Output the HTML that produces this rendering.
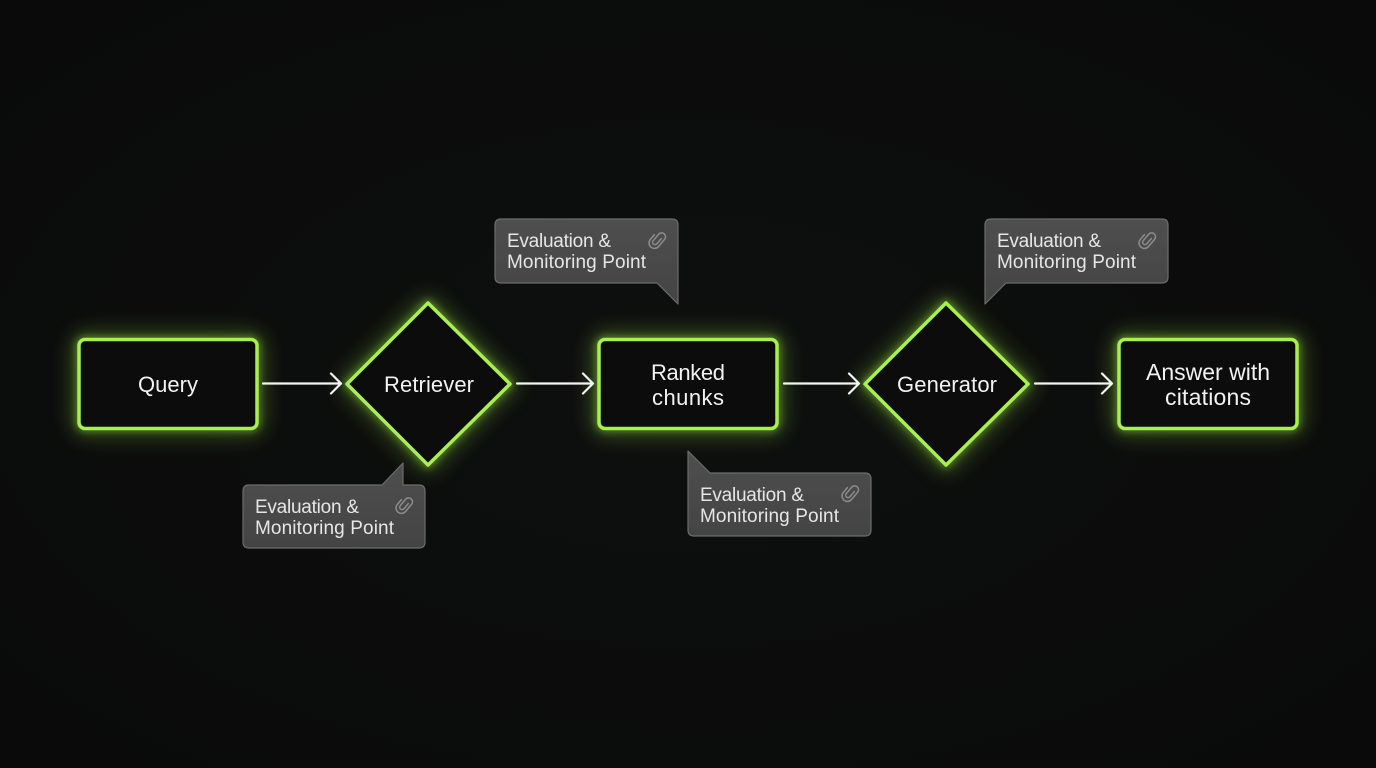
<!DOCTYPE html>
<html><head><meta charset="utf-8"><style>
html,body{margin:0;padding:0;background:#0b0c0c;}
svg{display:block;}
</style></head><body>
<svg width="1376" height="768" viewBox="0 0 1376 768" xmlns="http://www.w3.org/2000/svg">
<defs>
<filter id="glow" x="-50%" y="-50%" width="200%" height="200%">
<feGaussianBlur stdDeviation="11"/>
</filter>
<filter id="glow2" x="-50%" y="-50%" width="200%" height="200%">
<feGaussianBlur stdDeviation="4"/>
</filter>
<radialGradient id="bg" cx="50%" cy="50%" r="70%">
<stop offset="0" stop-color="#0e0f0f"/>
<stop offset="1" stop-color="#0a0a0a"/>
</radialGradient>
<linearGradient id="cf" x1="0" y1="0" x2="0" y2="1">
<stop offset="0" stop-color="#4e4e4e"/>
<stop offset="1" stop-color="#444444"/>
</linearGradient>
<g id="clip">
<path d="M1.6,-3.2 V3.6 a2.4,2.4 0 0 1 -4.8,0 V-4.8 a3.9,3.9 0 0 1 7.8,0 V4.6 a5.4,5.4 0 0 1 -10.8,0 V-1.8" fill="none" stroke="#8c8c8c" stroke-width="1.5" stroke-linecap="round"/>
</g>
</defs>
<rect width="1376" height="768" fill="url(#bg)"/>

<!-- glows -->
<g filter="url(#glow)" stroke="#8fe03a" stroke-width="10" fill="none" opacity="0.5">
<rect x="79" y="339.5" width="178" height="89" rx="6"/>
<path d="M428,303 L510,384 L428,465 L347,384 Z"/>
<rect x="599" y="339.5" width="178" height="89" rx="6"/>
<path d="M946,303 L1028,384 L946,465 L865,384 Z"/>
<rect x="1119" y="339.5" width="178" height="89" rx="6"/>
</g>
<g filter="url(#glow2)" stroke="#9be845" stroke-width="5" fill="none" opacity="0.6">
<rect x="79" y="339.5" width="178" height="89" rx="6"/>
<path d="M428,303 L510,384 L428,465 L347,384 Z"/>
<rect x="599" y="339.5" width="178" height="89" rx="6"/>
<path d="M946,303 L1028,384 L946,465 L865,384 Z"/>
<rect x="1119" y="339.5" width="178" height="89" rx="6"/>
</g>

<!-- nodes -->
<g stroke="#a8ef4f" stroke-width="3.5" fill="#0b0c0b" stroke-linejoin="round">
<rect x="79" y="339.5" width="178" height="89" rx="6"/>
<path d="M428,303 L510,384 L428,465 L347,384 Z"/>
<rect x="599" y="339.5" width="178" height="89" rx="6"/>
<path d="M946,303 L1028,384 L946,465 L865,384 Z"/>
<rect x="1119" y="339.5" width="178" height="89" rx="6"/>
</g>

<g font-family="Liberation Sans, sans-serif" font-size="22" fill="#f2f2f2" text-anchor="middle">
<text x="168" y="392">Query</text>
<text x="429" y="392" textLength="90">Retriever</text>
<text x="688" y="380" textLength="74">Ranked</text>
<text x="688" y="405" textLength="72">chunks</text>
<text x="947" y="392" textLength="100">Generator</text>
<text x="1208" y="380" font-size="23" textLength="124">Answer with</text>
<text x="1208" y="405" font-size="23" textLength="86">citations</text>
</g>

<!-- arrows -->
<g stroke="#f4f4f4" stroke-width="2.2" fill="none" stroke-linecap="round" stroke-linejoin="round">
<path d="M263,383.5 H341 M331,373.5 L341,383.5 L331,393.5"/>
<path d="M517,383.5 H593 M583,373.5 L593,383.5 L583,393.5"/>
<path d="M784,383.5 H859 M849,373.5 L859,383.5 L849,393.5"/>
<path d="M1035,383.5 H1112 M1102,373.5 L1112,383.5 L1102,393.5"/>
</g>

<!-- callouts -->
<g fill="url(#cf)" stroke="#6c6c6c" stroke-width="1.2" stroke-linejoin="round">
<path d="M249,485 H382 L403,463 V485 H419 Q425,485 425,491 V542 Q425,548 419,548 H249 Q243,548 243,542 V491 Q243,485 249,485 Z"/>
<path d="M501,219 H672 Q678,219 678,225 V304 L657,283 H501 Q495,283 495,277 V225 Q495,219 501,219 Z"/>
<path d="M688,451 L710,473 H865 Q871,473 871,479 V530 Q871,536 865,536 H694 Q688,536 688,530 Z"/>
<path d="M991,219 H1162 Q1168,219 1168,225 V277 Q1168,283 1162,283 H1006 L985,304 V225 Q985,219 991,219 Z"/>
</g>

<g font-family="Liberation Sans, sans-serif" font-size="19" fill="#e6e6e6">
<text x="255" y="513" textLength="104">Evaluation &amp;</text>
<text x="255" y="534" textLength="139">Monitoring Point</text>
<text x="507" y="247" textLength="104">Evaluation &amp;</text>
<text x="507" y="268" textLength="139">Monitoring Point</text>
<text x="700" y="501" textLength="104">Evaluation &amp;</text>
<text x="700" y="522" textLength="139">Monitoring Point</text>
<text x="997" y="247" textLength="104">Evaluation &amp;</text>
<text x="997" y="268" textLength="139">Monitoring Point</text>
</g>

<use href="#clip" transform="translate(405,505) rotate(40)"/>
<use href="#clip" transform="translate(658,240) rotate(40)"/>
<use href="#clip" transform="translate(851,493) rotate(40)"/>
<use href="#clip" transform="translate(1148,240) rotate(40)"/>
</svg>
</body></html>
